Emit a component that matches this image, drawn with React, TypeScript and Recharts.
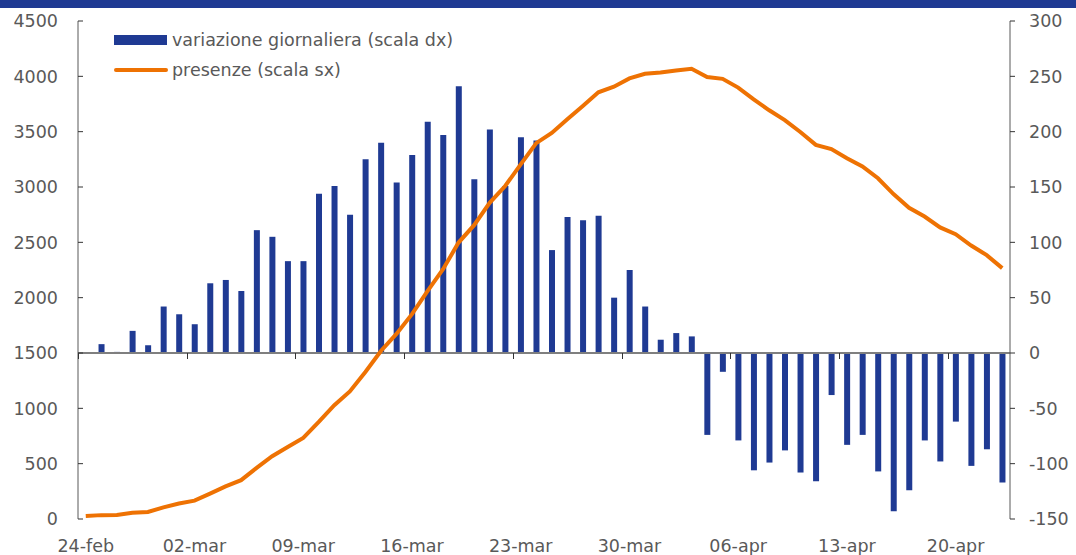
import { ComposedChart, Bar, Line, XAxis, YAxis, ReferenceLine } from 'recharts';

// giorni: 24 feb - 23 apr
const DATES = [
  '24-feb', '25-feb', '26-feb', '27-feb', '28-feb', '29-feb',
  '01-mar', '02-mar', '03-mar', '04-mar', '05-mar', '06-mar', '07-mar', '08-mar', '09-mar', '10-mar',
  '11-mar', '12-mar', '13-mar', '14-mar', '15-mar', '16-mar', '17-mar', '18-mar', '19-mar', '20-mar',
  '21-mar', '22-mar', '23-mar', '24-mar', '25-mar', '26-mar', '27-mar', '28-mar', '29-mar', '30-mar', '31-mar',
  '01-apr', '02-apr', '03-apr', '04-apr', '05-apr', '06-apr', '07-apr', '08-apr', '09-apr', '10-apr',
  '11-apr', '12-apr', '13-apr', '14-apr', '15-apr', '16-apr', '17-apr', '18-apr', '19-apr', '20-apr',
  '21-apr', '22-apr', '23-apr',
];

// presenze (scala sx)
const PRESENZE = [
  27, 35, 36, 56, 64, 105, 140, 166, 229, 295, 351, 462, 567, 650, 733, 877, 1028, 1153, 1328, 1518,
  1672, 1851, 2060, 2257, 2498, 2655, 2857, 3009, 3204, 3396, 3489, 3612, 3732, 3856, 3906, 3981, 4023, 4035, 4053, 4068,
  3994, 3977, 3898, 3792, 3693, 3605, 3497, 3381, 3343, 3260, 3186, 3079, 2936, 2812, 2733, 2635, 2573, 2471, 2384, 2267,
];

// variazione giornaliera (scala dx)
const VARIAZIONE = [
  null, 8, 1, 20, 7, 42, 35, 26, 63, 66, 56, 111, 105, 83, 83, 144, 151, 125, 175, 190,
  154, 179, 209, 197, 241, 157, 202, 151, 195, 192, 93, 123, 120, 124, 50, 75, 42, 12, 18, 15,
  -74, -17, -79, -106, -99, -88, -108, -116, -38, -83, -74, -107, -143, -124, -79, -98, -62, -102, -87, -117,
];

const LEFT_TICKS = [0, 500, 1000, 1500, 2000, 2500, 3000, 3500, 4000, 4500];
const RIGHT_TICKS = [-150, -100, -50, 0, 50, 100, 150, 200, 250, 300];

const LEGEND_BAR = 'variazione giornaliera (scala dx)';
const LEGEND_LINE = 'presenze (scala sx)';

const BLUE = '#1f3a93';
const ORANGE = '#ee7203';
const GREY = '#595959';
const FONT = '"DejaVu Sans", sans-serif';
const FS = 17.5;

const W = 1076;
const H = 555;
const TOP = 21;
const LEFT_W = 78;
const RIGHT_W = 66;
const X_H = 36;
const PLOT_W = W - LEFT_W - RIGHT_W;
const PLOT_H = H - TOP - X_H;
const BAND = PLOT_W / DATES.length;
const R_MIN = RIGHT_TICKS[0];
const R_MAX = RIGHT_TICKS[RIGHT_TICKS.length - 1];
const ZERO_Y = TOP + PLOT_H * (R_MAX / (R_MAX - R_MIN));

const data = DATES.map((d, i) => ({ date: d, presenze: PRESENZE[i], variazione: VARIAZIONE[i] }));

function DateTick(props: any) {
  const { x, y, payload } = props;
  const tx = Math.round(x - BAND / 2) + 0.5;
  return (
    <g>
      <line x1={tx} x2={tx} y1={Math.round(ZERO_Y)} y2={Math.round(ZERO_Y) + 6} stroke="#333" strokeWidth={1} />
      <text x={x} y={y + 25} textAnchor="middle" fill={GREY} fontSize={FS} fontFamily={FONT}>
        {payload.value}
      </text>
    </g>
  );
}

export default function App() {
  return (
    <div style={{ position: 'absolute', left: 0, top: 0, width: W, height: H, background: '#fff', overflow: 'hidden' }}>
      <div style={{ position: 'absolute', left: 0, top: 0, width: W, height: 8, background: BLUE }} />
      <ComposedChart
        width={W}
        height={H}
        data={data}
        margin={{ top: TOP, right: 0, bottom: 0, left: 0 }}
        barCategoryGap={0}
      >
        <XAxis
          dataKey="date"
          xAxisId="x"
          height={X_H}
          interval={6}
          axisLine={false}
          tickLine={false}
          tick={<DateTick />}
        />
        <YAxis
          yAxisId="left"
          orientation="left"
          width={LEFT_W}
          domain={[0, 4500]}
          ticks={LEFT_TICKS}
          interval={0}
          axisLine={{ stroke: GREY }}
          tickLine={{ stroke: '#333' }}
          tickSize={-5}
          tickMargin={25}
          tick={{ fill: GREY, fontSize: FS, fontFamily: FONT }}
        />
        <YAxis
          yAxisId="right"
          orientation="right"
          width={RIGHT_W}
          domain={[R_MIN, R_MAX]}
          ticks={RIGHT_TICKS}
          interval={0}
          axisLine={{ stroke: GREY }}
          tickLine={{ stroke: '#333' }}
          tickSize={5}
          tickMargin={14}
          tick={{ fill: GREY, fontSize: FS, fontFamily: FONT, textAnchor: 'start' }}
        />
        <ReferenceLine yAxisId="right" xAxisId="x" y={0} stroke="#7f7f7f" strokeWidth={2} />
        <Bar
          dataKey="variazione"
          xAxisId="x"
          yAxisId="right"
          fill={BLUE}
          barSize={6}
          isAnimationActive={false}
        />
        <Line
          dataKey="presenze"
          xAxisId="x"
          yAxisId="left"
          type="linear"
          stroke={ORANGE}
          strokeWidth={4}
          dot={false}
          activeDot={false}
          isAnimationActive={false}
        />
      </ComposedChart>
      <div style={{ position: 'absolute', left: 114, top: 28, fontFamily: FONT, fontSize: FS, color: GREY, lineHeight: '24px' }}>
        <div style={{ display: 'flex', alignItems: 'center', height: 24 }}>
          <span style={{ display: 'inline-block', width: 53, height: 10, background: BLUE, marginRight: 5 }} />
          <span>{LEGEND_BAR}</span>
        </div>
        <div style={{ display: 'flex', alignItems: 'center', height: 24, marginTop: 6 }}>
          <span style={{ display: 'inline-block', width: 54, height: 4, borderRadius: 2, background: ORANGE, marginRight: 4 }} />
          <span>{LEGEND_LINE}</span>
        </div>
      </div>
    </div>
  );
}
